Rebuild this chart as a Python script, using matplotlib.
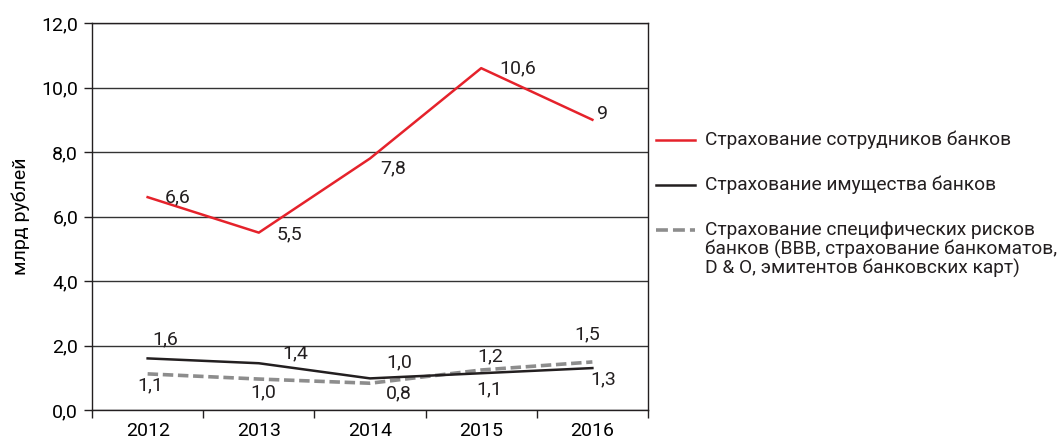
import matplotlib
matplotlib.use("Agg")
import matplotlib.pyplot as plt
from matplotlib.lines import Line2D

plt.rcParams['font.family'] = ['Roboto', 'DejaVu Sans']

years = ['2012', '2013', '2014', '2015', '2016']
employees = [6.6, 5.5, 7.8, 10.6, 9.0]
employees_lbl = ['6,6', '5,5', '7,8', '10,6', '9']
property_ = [1.6, 1.45, 0.98, 1.14, 1.3]
property_lbl = ['1,6', '1,4', '1,0', '1,1', '1,3']
specific = [1.12, 0.96, 0.83, 1.24, 1.49]
specific_lbl = ['1,1', '1,0', '0,8', '1,2', '1,5']
yticks = [0, 2, 4, 6, 8, 10, 12]
ytick_lbl = ['0,0', '2,0', '4,0', '6,0', '8,0', '10,0', '12,0']
series_names = ['Страхование сотрудников банков',
                'Страхование имущества банков',
                'Страхование специфических рисков\nбанков (ВВВ, страхование банкоматов,\nD & O, эмитентов банковских карт)']

RED = '#e5222b'
BLACK = '#231f20'
GRAY = '#8d8d8d'
FS = 14
LFS = 13.8

fig = plt.figure(figsize=(10.64, 4.41), dpi=100)
ax = fig.add_axes([0.0865, 0.0703, 0.5225, 0.8775])

x = list(range(len(years)))
l1, = ax.plot(x, employees, color=RED, lw=1.8, zorder=4)
l2, = ax.plot(x, property_, color=BLACK, lw=1.8, zorder=4)
l3, = ax.plot(x, specific, color=GRAY, lw=2.6, dashes=(2.9, 1.3), zorder=3)

ax.set_xlim(-0.5, 4.5)
ax.set_ylim(0, 12)
ax.set_yticks(yticks)
ax.set_yticklabels(ytick_lbl, fontsize=FS)
ax.set_xticks(x)
ax.set_xticklabels(years, fontsize=FS)
ax.tick_params(axis='x', which='major', length=0, pad=9)
ax.set_xticks([i + 0.5 for i in range(-1, len(years))], minor=True)
ax.tick_params(axis='x', which='minor', length=6, width=1, direction='out', color=BLACK)
ax.tick_params(axis='y', length=6, width=1, color=BLACK, pad=4)
ax.grid(axis='y', color='#333333', lw=1)
ax.set_axisbelow(True)
for s in ax.spines.values():
    s.set_color(BLACK)
    s.set_linewidth(1)
ax.set_ylabel('млрд рублей', fontsize=FS, labelpad=8)

def lab(xi, yi, t, dx, dy):
    ax.annotate(t, (xi, yi), xytext=(dx, dy), textcoords='offset points',
                ha='center', va='center', fontsize=FS, color=BLACK, zorder=5)

red_off = [(22, 0), (22, -1.5), (17, -7), (26, 0), (7, 4)]
blk_off = [(13, 14), (26, 7), (21, 11.5), (6, -11.5), (8, -8)]
gry_off = [(2, -8), (3, -9.5), (21, -7), (6.5, 10), (-3.5, 20)]
for i in x:
    lab(i, employees[i], employees_lbl[i], *red_off[i])
    lab(i, property_[i], property_lbl[i], *blk_off[i])
    lab(i, specific[i], specific_lbl[i], *gry_off[i])

# manual legend (handle aligned with first text line)
legend_items = [(l1, series_names[0], 0.6825), (l2, series_names[1], 0.5805), (l3, series_names[2], 0.4785)]
for line, name, yy in legend_items:
    h = Line2D([0.6165, 0.6535], [yy, yy], transform=fig.transFigure,
               color=line.get_color(), lw=line.get_linewidth(),
               linestyle=line.get_linestyle())
    if line is l3:
        h.set_dashes((3.3, 1.4))
    fig.add_artist(h)
    parts = name.split('\n')
    for k, r in enumerate(parts):
        fig.text(0.6625, yy - 0.044 * k, r, fontsize=LFS, va='center', ha='left', color=BLACK)

fig.savefig('out.png', dpi=100)
